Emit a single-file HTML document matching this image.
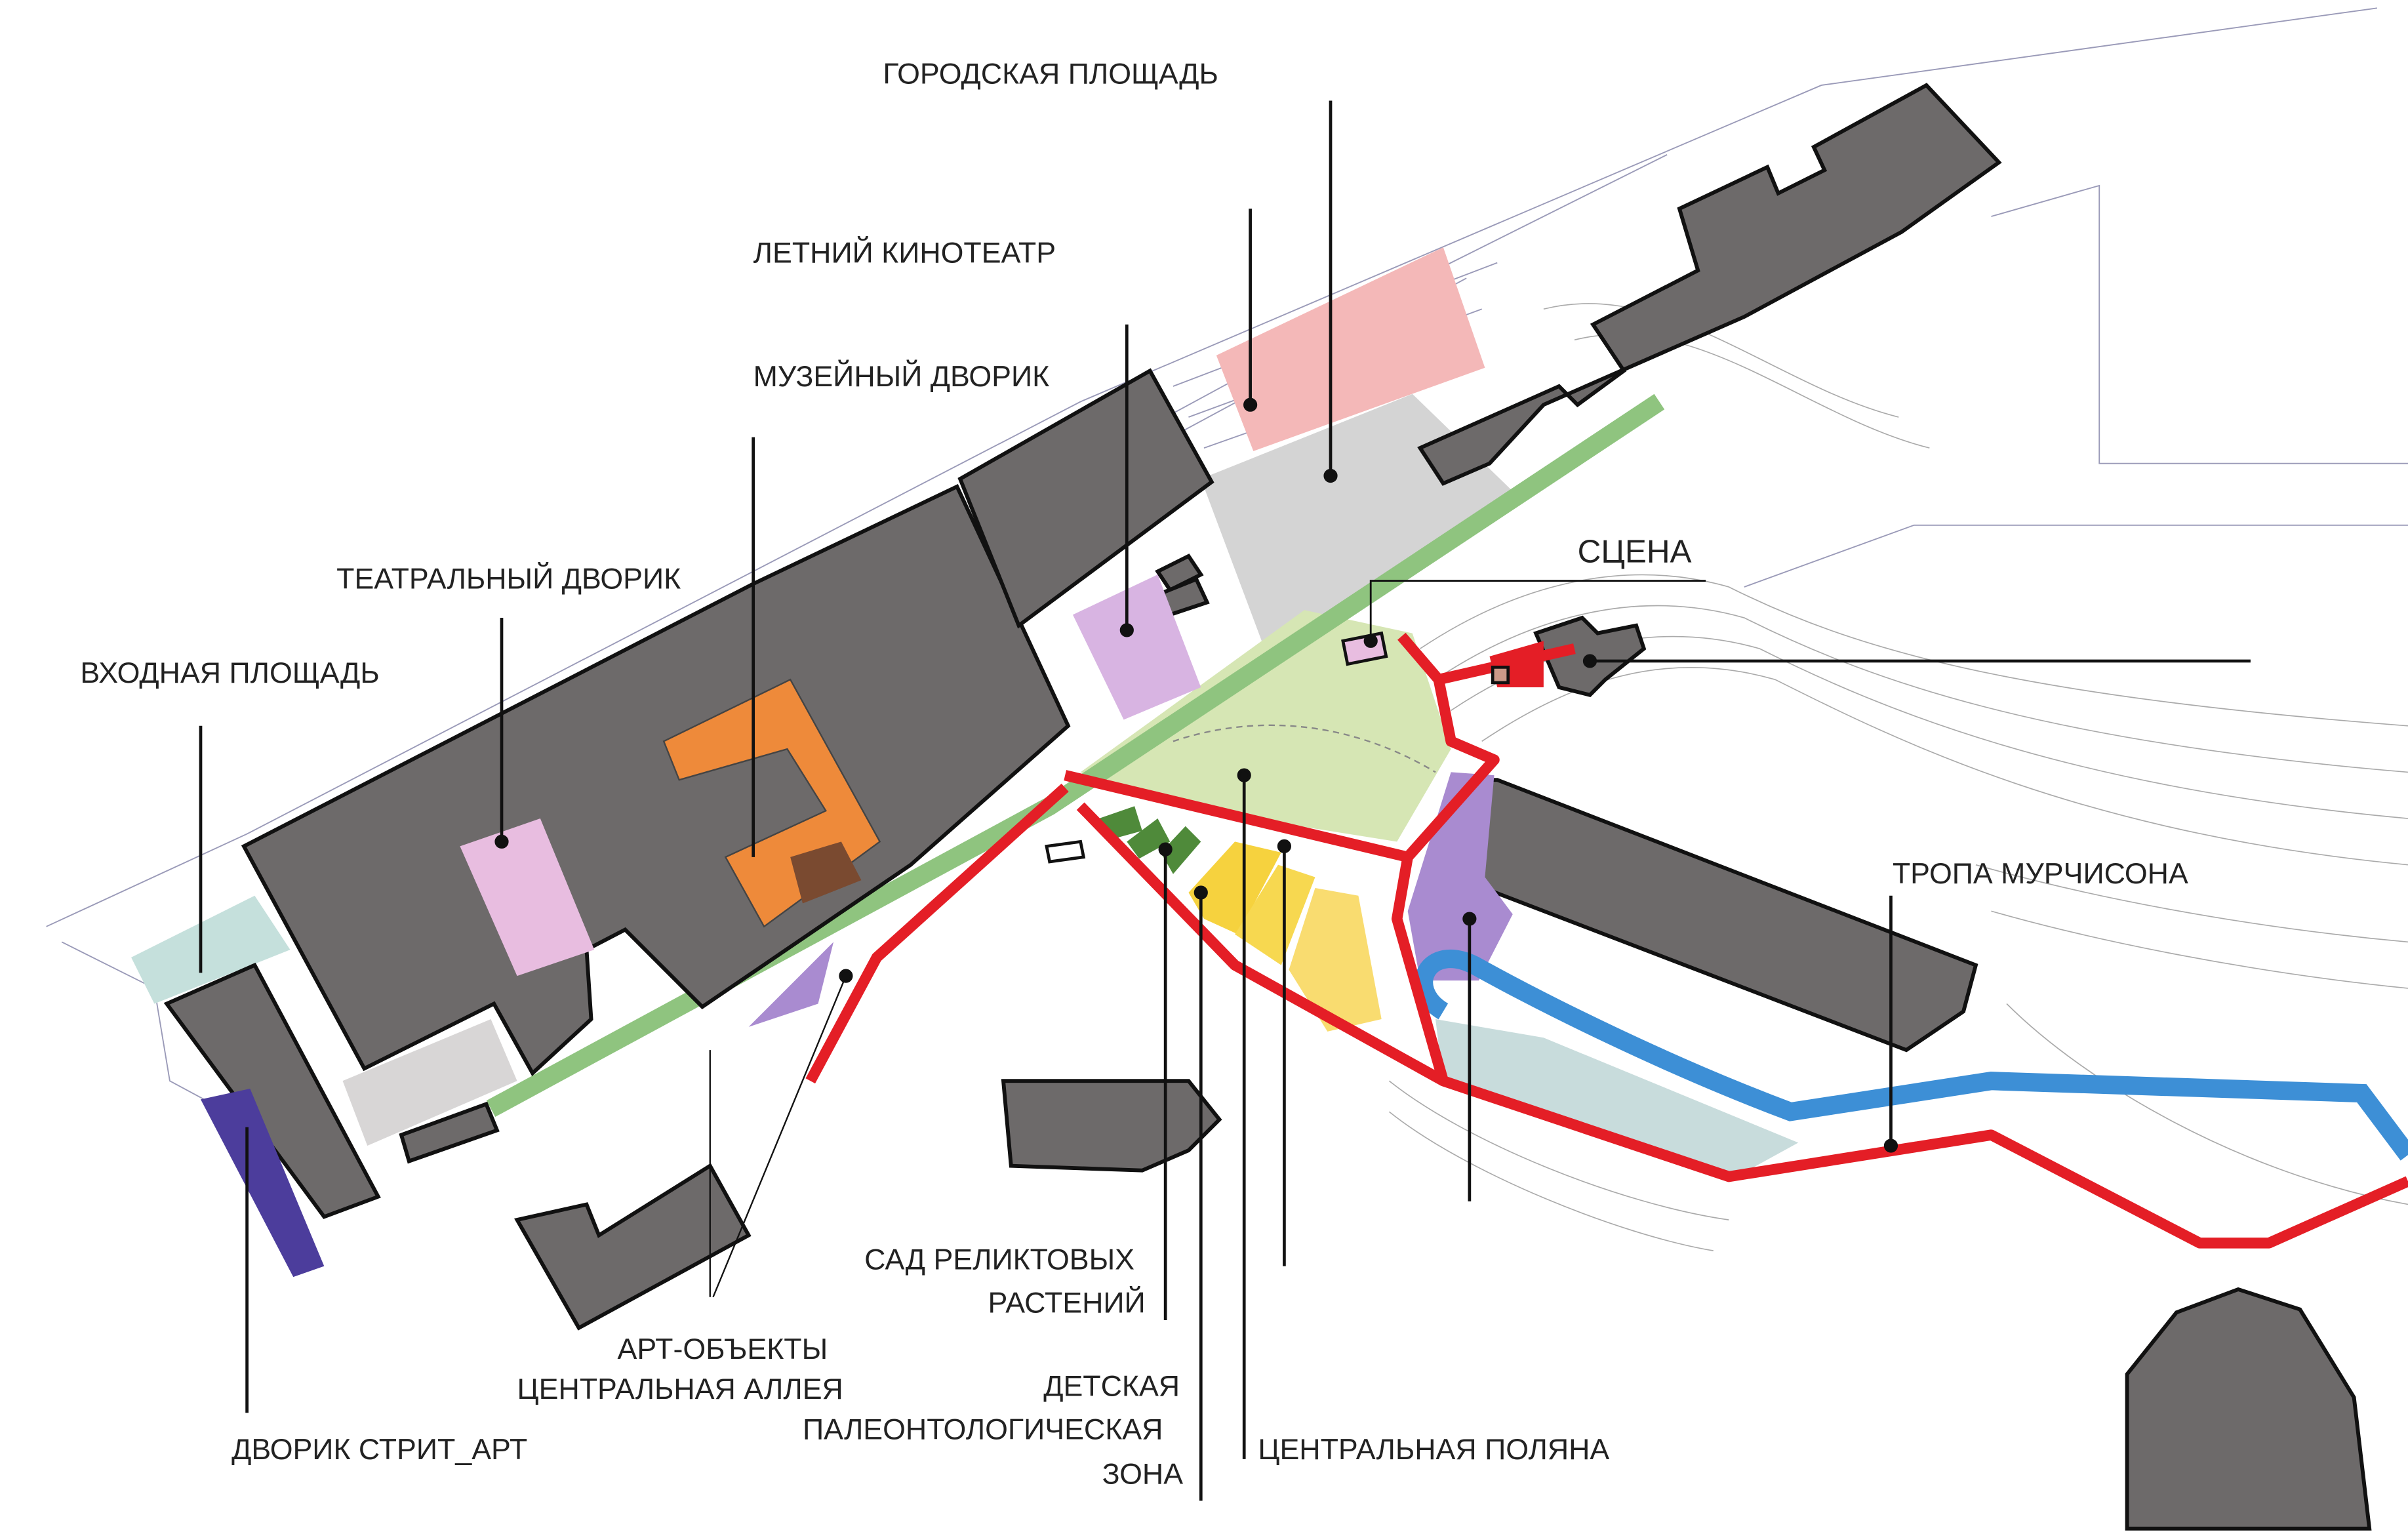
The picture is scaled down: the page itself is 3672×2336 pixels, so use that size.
<!DOCTYPE html>
<html><head><meta charset="utf-8"><style>
html,body{margin:0;padding:0;background:#fff;}
svg{display:block;}
text{font-family:"Liberation Sans",sans-serif;font-size:19px;fill:#222;}
</style></head><body>
<svg width="3672" height="2336" viewBox="0 0 1560 992" xmlns="http://www.w3.org/2000/svg">
<rect width="1560" height="992" fill="#fff"/>
<!-- thin context lines -->
<g fill="none" stroke="#9a9ab8" stroke-width="0.8">
<path d="M30 600 L160 540 L700 260 L1180 55 L1540 5"/>
<path d="M40 610 L100 640 L110 700 L240 770"/>
<path d="M700 300 L940 170 L1080 100"/>
<path d="M690 320 L950 180"/>
<path d="M760 250 L970 170 M770 270 L960 200 M780 290 L950 230"/>
<path d="M1290 140 L1360 120 L1360 300 L1560 300"/>
<path d="M1130 380 L1240 340 L1560 340"/>
</g>
<g fill="none" stroke="#aaa" stroke-width="0.7">
<path d="M920 420 C980 380 1050 360 1120 380 C1200 420 1300 450 1560 470"/>
<path d="M930 440 C990 400 1060 380 1130 400 C1210 440 1320 480 1560 500"/>
<path d="M940 460 C1000 420 1070 400 1140 420 C1220 460 1340 510 1560 530"/>
<path d="M960 480 C1020 440 1080 420 1150 440 C1230 480 1350 540 1560 560"/>
<path d="M1280 560 C1350 580 1450 600 1560 610"/>
<path d="M1290 590 C1360 610 1460 630 1560 640"/>
<path d="M900 700 C950 740 1050 780 1120 790"/>
<path d="M900 720 C950 760 1050 800 1110 810"/>
<path d="M1000 200 C1080 180 1150 250 1230 270"/>
<path d="M1020 220 C1100 200 1170 270 1250 290"/>
<path d="M1300 650 C1350 700 1450 760 1560 780"/>
</g>
<!-- zones -->
<polygon points="788,230 935,160 962,238 812,292" fill="#f4b8b8"/>
<polygon points="778,310 915,255 980,318 820,422" fill="#d4d4d4"/>
<polygon points="700,500 845,395 915,410 940,485 905,545 760,522" fill="#d6e6b4"/>
<polygon points="85,620 165,580 188,615 100,650" fill="#c5e0dc"/>
<polygon points="222,700 318,660 335,700 238,742" fill="#d8d6d6"/>
<!-- green alley -->
<polyline points="318,718 680,522 1075,260" fill="none" stroke="#8fc47f" stroke-width="12"/>
<!-- buildings -->
<g fill="#6d6a6a" stroke="#111" stroke-width="2.5">
<polygon points="158,548 488,378 620,315 692,470 590,560 455,652 405,602 380,615 383,660 345,695 320,650 236,692"/>
<polygon points="622,310 745,240 785,312 660,405"/>
<polygon points="920,290 1010,250 1022,262 1052,240 1032,210 1100,175 1088,135 1145,108 1152,125 1182,110 1175,95 1248,55 1295,105 1232,150 1130,205 1000,262 965,300 935,313"/>
<polygon points="955,505 970,505 1280,625 1272,655 1235,680 948,570"/>
<polygon points="108,650 165,625 245,775 210,788"/>
<polygon points="335,790 380,780 388,800 460,755 485,800 375,860"/>
<polygon points="650,700 770,700 790,725 770,745 740,758 655,755"/>
<polygon points="1378,990 1378,890 1410,850 1450,835 1490,848 1525,905 1535,990"/>
<polygon points="995,410 1025,400 1035,410 1060,405 1065,420 1040,440 1030,450 1010,445"/>
<polygon points="260,735 315,715 322,732 265,752"/>
<polygon points="750,370 770,360 778,372 758,382"/>
<polygon points="750,385 775,375 782,390 758,398"/>
</g>
<!-- coloured overlays on buildings -->
<polygon points="430,480 512,440 570,545 495,600 470,555 535,525 510,485 440,505" fill="#ee8a3a" stroke="#444" stroke-width="1"/>
<polygon points="512,555 545,545 558,570 520,585" fill="#7a4a30"/>
<polygon points="298,548 350,530 385,615 335,632" fill="#e8bde0"/>
<polygon points="695,398 750,372 778,445 728,466" fill="#d8b4e2"/>
<polygon points="130,712 162,705 210,820 190,827" fill="#4c3d9c"/>
<polygon points="912,590 940,500 968,502 962,568 980,592 958,635 920,635" fill="#a98bd0"/>
<polygon points="485,665 540,610 530,650" fill="#a98bd0"/>
<!-- yellow -->
<polygon points="770,578 800,545 830,552 802,605 780,595" fill="#f6d23e"/>
<polygon points="800,605 828,560 852,568 830,625" fill="#f7d850"/>
<polygon points="835,628 852,575 880,580 895,660 860,668" fill="#f9dc70"/>
<!-- green relict -->
<polygon points="712,530 735,522 740,538 718,544" fill="#4f8a3a"/>
<polygon points="730,545 750,530 758,545 738,556" fill="#4f8a3a"/>
<polygon points="752,552 768,535 778,545 760,566" fill="#4f8a3a"/>
<!-- pond and river -->
<polygon points="930,660 1000,672 1165,740 1125,762 935,702" fill="#c8dcdc"/>
<path d="M935 655 C910 640 925 610 955 625 C1000 650 1080 690 1160 720 L1290 700 L1530 708 L1560 748" fill="none" stroke="#3d8fd6" stroke-width="12"/>
<!-- red paths -->
<g fill="none" stroke="#e41e26" stroke-width="7" stroke-linejoin="round">
<polyline points="690,502 912,555 968,492 940,480 932,440 908,412"/>
<polyline points="912,555 905,595 935,700 1120,762 1290,735 1425,805 1470,805 1560,765"/>
<polyline points="700,522 800,625 935,700"/>
<polyline points="690,510 568,620 525,700"/>
<polyline points="932,440 1020,420"/>
</g>
<polygon points="965,425 1000,415 1000,445 970,445" fill="#e41e26"/>
<rect x="967" y="432" width="10" height="10" fill="#c98" stroke="#111" stroke-width="2"/>
<polygon points="870,415 895,410 898,425 873,430" fill="#e8bde0" stroke="#111" stroke-width="2"/>
<path d="M760 480 C820 460 880 470 930 500" fill="none" stroke="#888" stroke-width="1" stroke-dasharray="4 3"/>
<polygon points="678,548 700,545 702,555 680,558" fill="#fff" stroke="#111" stroke-width="2"/>
<!-- leaders -->
<g stroke="#111" stroke-width="2" fill="#111">
<line x1="862" y1="65" x2="862" y2="308"/><circle cx="862" cy="308" r="3.5"/>
<line x1="810" y1="135" x2="810" y2="262"/><circle cx="810" cy="262" r="3.5"/>
<line x1="730" y1="210" x2="730" y2="408"/><circle cx="730" cy="408" r="3.5"/>
<line x1="488" y1="283" x2="488" y2="555"/>
<line x1="325" y1="400" x2="325" y2="545"/><circle cx="325" cy="545" r="3.5"/>
<line x1="130" y1="470" x2="130" y2="630"/>
<polyline points="888,415 888,376 1105,376" fill="none" stroke-width="1.2"/><circle cx="888" cy="415" r="3.5"/>
<line x1="1030" y1="428" x2="1458" y2="428"/><circle cx="1030" cy="428" r="3.5"/>
<line x1="1225" y1="580" x2="1225" y2="742"/><circle cx="1225" cy="742" r="3.5"/>
<line x1="952" y1="595" x2="952" y2="778"/><circle cx="952" cy="595" r="3.5"/>
<line x1="806" y1="502" x2="806" y2="945"/><circle cx="806" cy="502" r="3.5"/>
<line x1="832" y1="548" x2="832" y2="820"/><circle cx="832" cy="548" r="3.5"/>
<line x1="755" y1="550" x2="755" y2="855"/><circle cx="755" cy="550" r="3.5"/>
<line x1="778" y1="578" x2="778" y2="972"/><circle cx="778" cy="578" r="3.5"/>
<line x1="160" y1="730" x2="160" y2="915"/>
<line x1="460" y1="680" x2="460" y2="840" stroke-width="1"/>
<line x1="548" y1="632" x2="462" y2="840" stroke-width="1"/><circle cx="548" cy="632" r="3.5"/>
</g>
<!-- labels -->
<text x="572" y="54">ГОРОДСКАЯ ПЛОЩАДЬ</text>
<text x="488" y="170">ЛЕТНИЙ КИНОТЕАТР</text>
<text x="488" y="250">МУЗЕЙНЫЙ ДВОРИК</text>
<text x="218" y="381">ТЕАТРАЛЬНЫЙ  ДВОРИК</text>
<text x="52" y="442">ВХОДНАЯ ПЛОЩАДЬ</text>
<text x="1022" y="364" style="font-size:21px">СЦЕНА</text>
<text x="1226" y="572">ТРОПА МУРЧИСОНА</text>
<text x="560" y="822">САД РЕЛИКТОВЫХ</text>
<text x="640" y="850">РАСТЕНИЙ</text>
<text x="400" y="880">АРТ-ОБЪЕКТЫ</text>
<text x="335" y="906">ЦЕНТРАЛЬНАЯ АЛЛЕЯ</text>
<text x="676" y="904">ДЕТСКАЯ</text>
<text x="520" y="932">ПАЛЕОНТОЛОГИЧЕСКАЯ</text>
<text x="714" y="961">ЗОНА</text>
<text x="815" y="945">ЦЕНТРАЛЬНАЯ ПОЛЯНА</text>
<text x="150" y="945">ДВОРИК СТРИТ_АРТ</text>
</svg>
</body></html>
